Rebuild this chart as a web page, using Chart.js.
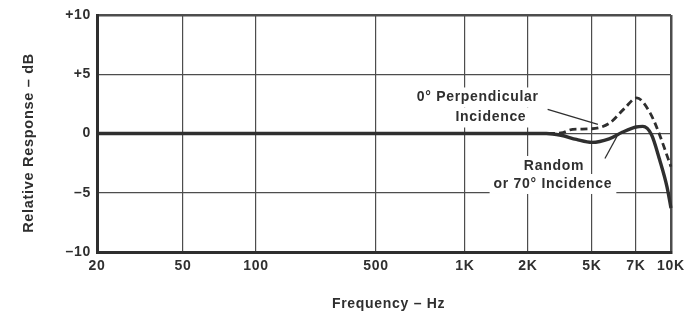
<!DOCTYPE html>
<html>
<head>
<meta charset="utf-8">
<script src="https://cdn.jsdelivr.net/npm/chart.js@4.4.1/dist/chart.umd.min.js"></script>
<style>
  html, body { margin: 0; padding: 0; background: #fff; }
  #wrap { width: 693px; height: 315px; }
</style>
</head>
<body>
<div id="wrap"><canvas id="responseChart"></canvas></div>
<script>
// Axis ticks
const freqTicks = [20, 50, 100, 500, 1000, 2000, 5000, 7000, 10000];
const freqLabels = ['20', '50', '100', '500', '1K', '2K', '5K', '7K', '10K'];
const dbTicks = [-10, -5, 0, 5, 10];
const dbLabels = ['\u201310', '\u20135', '0', '+5', '+10'];

// Random or 70° incidence (solid)
const randomFreq = [20, 50, 100, 500, 1000, 2000, 2600, 3200, 4000, 5000, 5700, 6300, 7000, 7500, 8200, 8900, 9600, 10000];
const randomDb   = [0, 0, 0, 0, 0, 0, 0, -0.15, -0.5, -0.75, -0.45, 0.1, 0.55, 0.6, -0.1, -2.2, -4.5, -6.3];

// 0° perpendicular incidence (dashed)
const perpFreq = [20, 50, 100, 500, 1000, 2000, 2600, 3200, 3800, 5000, 5700, 6400, 7050, 8100, 8900, 9700, 10000];
const perpDb   = [0, 0, 0, 0, 0, 0, 0, 0.05, 0.35, 0.4, 0.85, 2.1, 3.0, 1.7, -0.1, -2.1, -2.8];

// the printed chart paper is not a true log grid: width of each tick interval
const freqGridSteps = [86, 73, 120, 89, 63, 64, 44, 35];
const stepTotal = freqGridSteps.reduce((a, b) => a + b, 0);

const ink = '#2f2f2f';
const gridInk = '#4d4d4d';
const fontFamily = '"Liberation Sans", Arial, Helvetica, sans-serif';

function freqToDecimal(f) {
  let acc = 0;
  for (let i = 0; i < freqGridSteps.length; i++) {
    const lo = freqTicks[i], hi = freqTicks[i + 1];
    if (f <= hi || i === freqGridSteps.length - 1) {
      const t = Math.log(f / lo) / Math.log(hi / lo);
      return (acc + t * freqGridSteps[i]) / stepTotal;
    }
    acc += freqGridSteps[i];
  }
}

function decimalToFreq(d) {
  let pos = d * stepTotal;
  for (let i = 0; i < freqGridSteps.length; i++) {
    if (pos <= freqGridSteps[i] || i === freqGridSteps.length - 1) {
      const lo = freqTicks[i], hi = freqTicks[i + 1];
      return lo * Math.pow(hi / lo, pos / freqGridSteps[i]);
    }
    pos -= freqGridSteps[i];
  }
}

// Frequency scale that follows the printed grid
class ChartPaperScale extends Chart.Scale {
  static id = 'chartpaper';
  static defaults = {};
  determineDataLimits() {
    this.min = freqTicks[0];
    this.max = freqTicks[freqTicks.length - 1];
  }
  buildTicks() {
    return freqTicks.map(v => ({ value: v }));
  }
  getLabelForValue(v) { return String(v); }
  getPixelForValue(v) { return this.getPixelForDecimal(freqToDecimal(v)); }
  getValueForPixel(p) { return decimalToFreq(this.getDecimalForPixel(p)); }
}
Chart.register(ChartPaperScale);

// Callout texts and leader lines, placed in data units
const notes = [
  { text: '0\u00B0 Perpendicular', freq: 1150, db: 3.04 },
  { text: 'Incidence', freq: 1330, db: 1.35 },
  { text: 'Random', freq: 2900, db: -2.74 },
  { text: 'or 70\u00B0 Incidence', freq: 2860, db: -4.26 }
];
const leaders = [
  { from: [2650, 2.03], to: [5230, 0.76] },
  { from: [5520, -2.11], to: [6050, -0.25] }
];

const calloutPlugin = {
  id: 'callouts',
  beforeDraw(chart) {
    chart.ctx.letterSpacing = '0.7px';
  },
  beforeDatasetsDraw(chart) {
    const { ctx, scales: { x, y } } = chart;
    ctx.save();
    ctx.font = 'bold 14px ' + fontFamily;
    ctx.textAlign = 'center';
    ctx.textBaseline = 'middle';
    notes.forEach(n => {
      const px = x.getPixelForValue(n.freq);
      const py = y.getPixelForValue(n.db);
      const w = ctx.measureText(n.text).width;
      ctx.fillStyle = '#fff';
      ctx.fillRect(px - w / 2 - 4, py - 10, w + 8, 20);
    });
    ctx.fillStyle = ink;
    notes.forEach(n => {
      ctx.fillText(n.text, x.getPixelForValue(n.freq), y.getPixelForValue(n.db));
    });
    ctx.strokeStyle = ink;
    ctx.lineWidth = 1.3;
    leaders.forEach(l => {
      ctx.beginPath();
      ctx.moveTo(x.getPixelForValue(l.from[0]), y.getPixelForValue(l.from[1]));
      ctx.lineTo(x.getPixelForValue(l.to[0]), y.getPixelForValue(l.to[1]));
      ctx.stroke();
    });
    ctx.restore();
  }
};

const toPoints = (fs, ds) => fs.map((f, i) => ({ x: f, y: ds[i] }));

const edgeWidth = (ctx, count) => (ctx.index === 0 || ctx.index === count - 1) ? 2.5 : 1.2;

new Chart(document.getElementById('responseChart'), {
  type: 'line',
  data: {
    datasets: [
      {
        label: 'Random or 70\u00B0 Incidence',
        data: toPoints(randomFreq, randomDb),
        borderColor: ink, borderWidth: 3.4,
        pointRadius: 0, fill: false,
        cubicInterpolationMode: 'monotone'
      },
      {
        label: '0\u00B0 Perpendicular Incidence',
        data: toPoints(perpFreq, perpDb),
        borderColor: ink, borderWidth: 2.8, borderDash: [7, 4],
        pointRadius: 0, fill: false,
        cubicInterpolationMode: 'monotone'
      }
    ]
  },
  options: {
    responsive: true,
    maintainAspectRatio: false,
    animation: false,
    devicePixelRatio: 1,
    layout: { padding: { left: 0, right: 22, top: 15, bottom: 0 } },
    plugins: { legend: { display: false }, tooltip: { enabled: false } },
    scales: {
      x: {
        type: 'chartpaper',
        afterFit: s => { s.height = 63; },
        grid: { color: gridInk, drawTicks: false, lineWidth: c => edgeWidth(c, freqTicks.length) },
        border: { display: true, color: ink, width: 3 },
        ticks: {
          autoSkip: false, maxRotation: 0, padding: 6, color: ink,
          font: { family: fontFamily, size: 14, weight: 'bold' },
          callback: (v, i) => freqLabels[i]
        },
        title: {
          display: true, text: '  Frequency \u2013 Hz', color: ink,
          font: { family: fontFamily, size: 14, weight: 'bold' },
          padding: { top: 0, bottom: 2 }
        }
      },
      y: {
        min: -10, max: 10,
        afterFit: s => { s.width = 97; },
        afterBuildTicks: s => { s.ticks = dbTicks.map(v => ({ value: v })); },
        grid: { color: gridInk, drawTicks: false, lineWidth: c => edgeWidth(c, dbTicks.length) },
        border: { display: true, color: ink, width: 3 },
        ticks: {
          padding: 6, color: ink,
          font: { family: fontFamily, size: 14, weight: 'bold' },
          callback: (v, i) => dbLabels[i]
        },
        title: {
          display: true, text: 'Relative Response \u2013 dB    ', color: ink,
          font: { family: fontFamily, size: 14.5, weight: 'bold' },
          padding: { top: 20, bottom: 0 }
        }
      }
    }
  },
  plugins: [calloutPlugin]
});
</script>
</body>
</html>
